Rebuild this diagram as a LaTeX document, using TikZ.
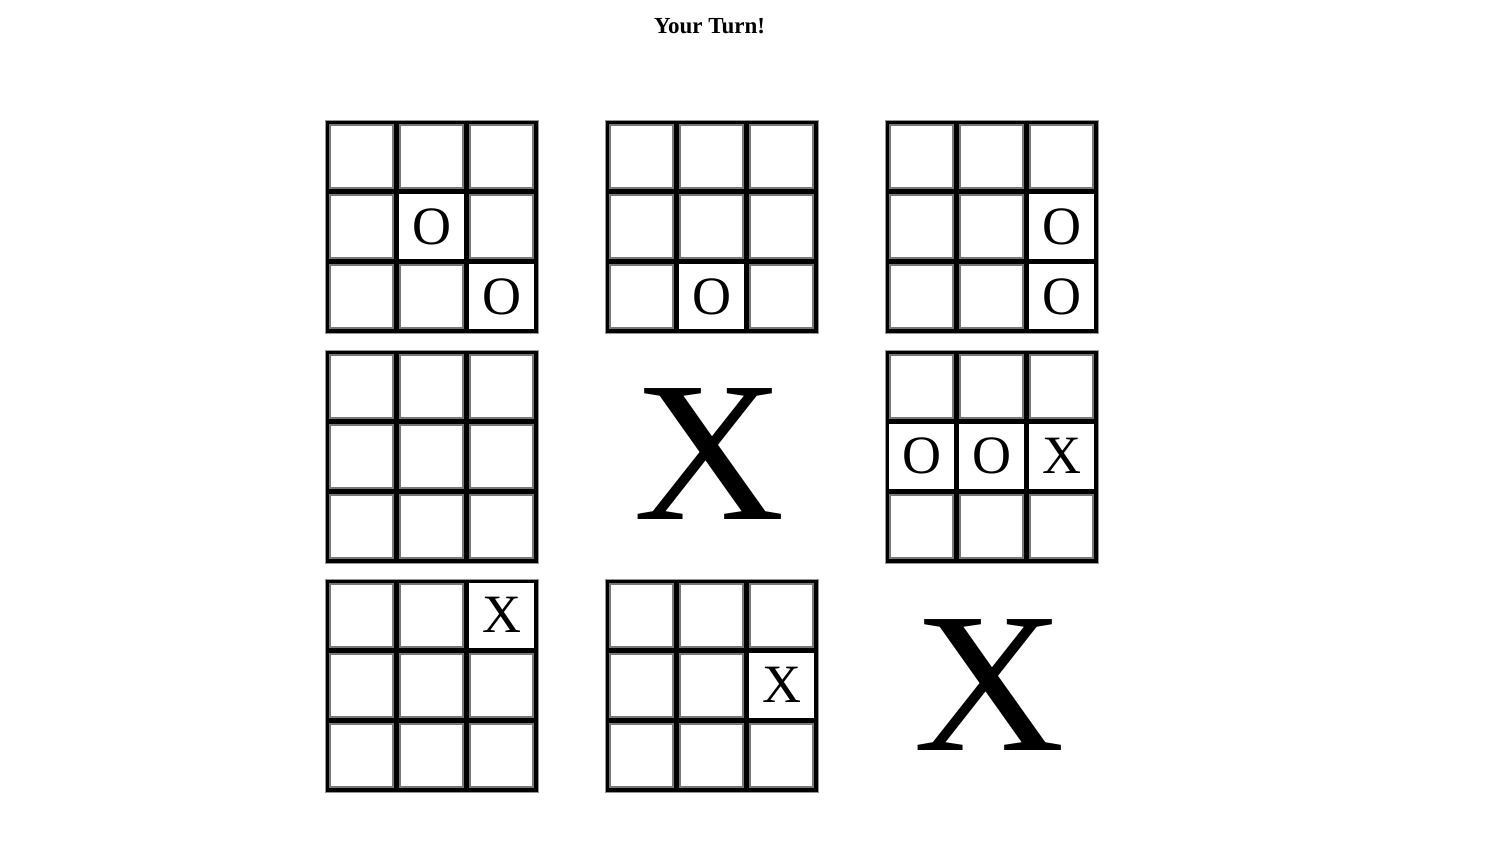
\documentclass[tikz,border=0pt]{standalone}
\usepackage{fontspec}
\setmainfont{Liberation Serif}
\definecolor{insetgray}{RGB}{120,120,120}
\definecolor{edgegray}{RGB}{150,150,150}
\begin{document}
\begin{tikzpicture}[x=1pt,y=-1pt,
  board/.style={fill=black,draw=edgegray,line width=1pt,minimum size=213pt,inner sep=0pt,outer sep=0pt},
  emptycell/.style={fill=white,draw=insetgray,line width=2pt,minimum size=63pt,inner sep=0pt,outer sep=0pt},
  markcell/.style={fill=white,minimum size=65pt,inner sep=0pt,outer sep=0pt,font=\fontsize{54}{54}\selectfont},
  bigmark/.style={inner sep=0pt,outer sep=0pt,xscale=1.05,font=\fontsize{200}{200}\selectfont},
  title/.style={inner sep=0pt,anchor=base,font=\fontsize{23}{23}\selectfont\bfseries}]
\useasboundingbox (0,0) rectangle (1506,842);
\node[title] (title) at (709.5,33.3) {Your Turn!};
% boards
\foreach \n/\bx/\by in {0/325/120,1/605/120,2/885/120,3/325/349.5,5/885/349.5,6/325/578.5,7/605/578.5}{
  \node[board] (b\n) at (\bx+107,\by+107) {};
  \foreach \r in {0,1,2}{
    \foreach \c in {0,1,2}{
      \node[emptycell] (b\n c\r\c) at (\bx+36.5+70*\c,\by+36.5+70*\r) {};
    }
  }
}
% marked cells
\foreach \n/\bx/\by/\r/\c/\m in {
  0/325/120/1/1/O, 0/325/120/2/2/O,
  1/605/120/2/1/O,
  2/885/120/1/2/O, 2/885/120/2/2/O,
  5/885/349.5/1/0/O, 5/885/349.5/1/1/O, 5/885/349.5/1/2/X,
  6/325/578.5/0/2/X,
  7/605/578.5/1/2/X}{
  \node[markcell] (b\n m\r\c) at (\bx+36.5+70*\c,\by+36.5+70*\r) {\m};
}
% won boards
\node[bigmark] (b4) at (709,454.5) {X};
\node[bigmark] (b8) at (989.5,685) {X};
\end{tikzpicture}
\end{document}
